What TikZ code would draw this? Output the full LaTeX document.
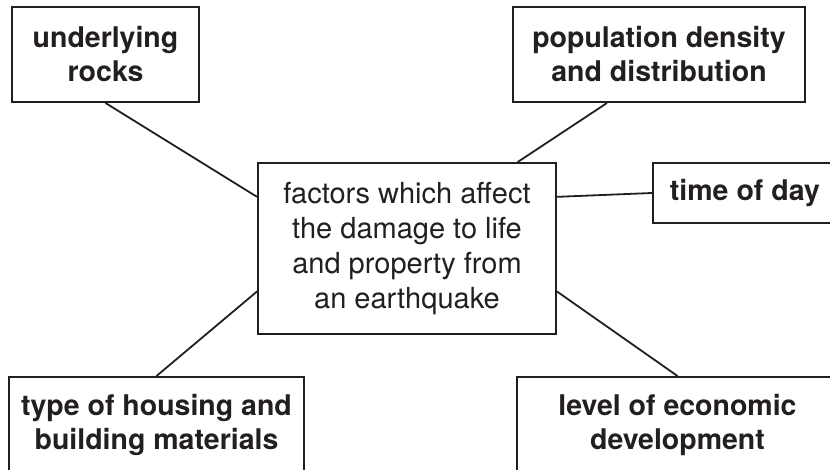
\documentclass[tikz,border=0pt]{standalone}
\usepackage{fontspec}
\setmainfont{TeX Gyre Heros}
\definecolor{ink}{HTML}{231F20}
\begin{document}
\begin{tikzpicture}[x=1pt,y=-1pt,
  factor/.style={draw=ink, line width=2pt, inner sep=0pt, align=center, text=ink, font=\fontsize{28.5}{34}\selectfont\bfseries},
  hub/.style={draw=ink, line width=2pt, inner sep=0pt, align=center, text=ink, font=\fontsize{29}{35}\selectfont, minimum width=298pt, minimum height=171pt},
  link/.style={draw=ink, line width=1.8pt}]
\useasboundingbox (0,0) rectangle (830,470);
\clip (0,0) rectangle (830,470);
\node[hub] (hub) at (407,248.5) {factors which affect\\the damage to life\\and property from\\an earthquake};
\node[factor, minimum width=187pt, minimum height=95pt] (rocks) at (105.5,54.5) {underlying\\rocks};
\node[factor, minimum width=292pt, minimum height=95pt] (people) at (659,54.5) {population density\\and distribution};
\node[factor, minimum width=184pt, minimum height=60pt] (time) at (745,193) {time of day};
\node[factor, minimum width=295pt, minimum height=95pt] (housing) at (156.5,424.5) {type of housing and\\building materials};
\node[factor, minimum width=321pt, minimum height=95pt] (economy) at (677.5,424.5) {level of economic\\development};
\draw[link] (rocks.south) -- (hub.161);
\draw[link] (people.223) -- (hub.38);
\draw[link] (time.west) -- (hub.19);
\draw[link] (housing.north) -- (hub.196);
\draw[link] (economy.north) -- (hub.344);
\end{tikzpicture}
\end{document}
